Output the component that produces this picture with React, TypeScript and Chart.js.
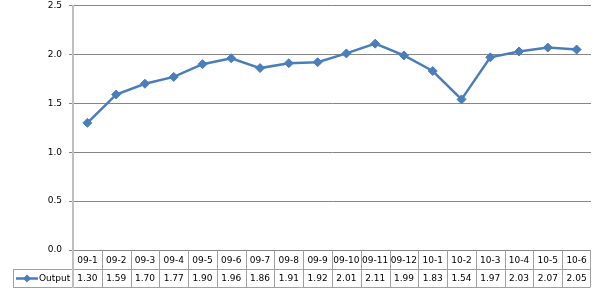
import React, { useEffect, useRef } from "react";
import { Chart, registerables } from "chart.js";

Chart.register(...registerables);

const categories = ["09-1", "09-2", "09-3", "09-4", "09-5", "09-6", "09-7", "09-8", "09-9", "09-10", "09-11", "09-12", "10-1", "10-2", "10-3", "10-4", "10-5", "10-6"];
const outputValues = [1.30, 1.59, 1.70, 1.77, 1.90, 1.96, 1.86, 1.91, 1.92, 2.01, 2.11, 1.99, 1.83, 1.54, 1.97, 2.03, 2.07, 2.05];
const seriesName = "Output";
const yMin = 0;
const yMax = 2.5;
const yStep = 0.5;

const LINE_COLOR = "#4a7ebb";
const FONT = '9px "DejaVu Sans", Verdana, sans-serif';

const tablePlugin = {
  id: "dataTable",
  afterDraw(chart: any) {
    const { ctx, chartArea } = chart;
    const xs = chart.scales.x;
    const n = categories.length;
    const colW = (chartArea.right - chartArea.left) / n;
    const top = Math.round(chartArea.bottom);
    const row1 = top + 19;
    const row2 = row1 + 18;
    const legendLeft = 13;
    const right = Math.round(chartArea.right) - 1;
    ctx.save();
    ctx.strokeStyle = "#a0a0a0";
    ctx.lineWidth = 1;
    ctx.beginPath();
    ctx.moveTo(legendLeft, row1 + 0.5);
    ctx.lineTo(right, row1 + 0.5);
    ctx.moveTo(legendLeft, row2 + 0.5);
    ctx.lineTo(right, row2 + 0.5);
    for (let i = 1; i <= n; i++) {
      const px = Math.round(xs.getPixelForValue(i - 1) + colW / 2) + 0.5;
      const xx = i === n ? right + 0.5 : px;
      ctx.moveTo(xx, top);
      ctx.lineTo(xx, row2 + 0.5);
    }
    ctx.moveTo(legendLeft + 0.5, row1);
    ctx.lineTo(legendLeft + 0.5, row2 + 0.5);
    ctx.stroke();

    ctx.strokeStyle = "#bfbfbf";
    ctx.lineWidth = 2;
    ctx.beginPath();
    ctx.moveTo(chartArea.left, top);
    ctx.lineTo(chartArea.left, row2 + 1);
    ctx.stroke();

    ctx.fillStyle = "#000";
    ctx.font = FONT;
    ctx.textAlign = "center";
    ctx.textBaseline = "middle";
    const y1 = (top + row1) / 2 + 1;
    const y2 = (row1 + row2) / 2 + 1;
    for (let i = 0; i < n; i++) {
      const cx = xs.getPixelForValue(i);
      ctx.fillText(categories[i], cx, y1);
      ctx.fillText(outputValues[i].toFixed(2), cx, y2);
    }
    const ly = Math.round(y2) - 0.5;
    ctx.strokeStyle = LINE_COLOR;
    ctx.lineWidth = 2.5;
    ctx.beginPath();
    ctx.moveTo(16, ly);
    ctx.lineTo(38, ly);
    ctx.stroke();
    ctx.fillStyle = LINE_COLOR;
    ctx.beginPath();
    ctx.moveTo(27, ly - 4);
    ctx.lineTo(31, ly);
    ctx.lineTo(27, ly + 4);
    ctx.lineTo(23, ly);
    ctx.closePath();
    ctx.fill();
    ctx.fillStyle = "#000";
    ctx.textAlign = "left";
    ctx.fillText(seriesName, 39, y2);
    ctx.restore();
  },
};

export default function App() {
  const ref = useRef<HTMLCanvasElement | null>(null);
  useEffect(() => {
    if (!ref.current) return;
    const chart = new Chart(ref.current, {
      type: "line",
      data: {
        labels: categories,
        datasets: [
          {
            label: seriesName,
            data: outputValues,
            borderColor: LINE_COLOR,
            backgroundColor: LINE_COLOR,
            borderWidth: 2.5,
            pointStyle: "rectRot",
            pointRadius: 4.5,
            pointBorderWidth: 1,
            pointBackgroundColor: LINE_COLOR,
            pointBorderColor: LINE_COLOR,
            tension: 0,
          },
        ],
      },
      options: {
        animation: false,
        responsive: true,
        maintainAspectRatio: false,
        layout: { padding: { left: 0, top: 5, right: 6, bottom: 41 } },
        plugins: {
          legend: { display: false },
          tooltip: { enabled: false },
        },
        scales: {
          x: {
            type: "category",
            offset: true,
            display: false,
          },
          y: {
            min: yMin,
            max: yMax,
            afterFit(scale: any) {
              scale.width = 73;
              scale.paddingTop = 0;
              scale.paddingBottom = 0;
            },
            ticks: {
              stepSize: yStep,
              color: "#000",
              font: { family: '"DejaVu Sans", Verdana, sans-serif', size: 9 },
              padding: 7,
              callback: (v: any) => Number(v).toFixed(1),
            },
            grid: {
              color: "#868686",
              tickColor: "#868686",
              tickLength: 4,
              lineWidth: 1,
            },
            border: { display: true, color: "#bfbfbf", width: 2 },
          },
        },
      },
      plugins: [tablePlugin],
    });
    return () => chart.destroy();
  }, []);
  return (
    <div style={{ position: "fixed", left: 0, top: 0, width: 597, height: 291, background: "#fff" }}>
      <canvas ref={ref} />
    </div>
  );
}
